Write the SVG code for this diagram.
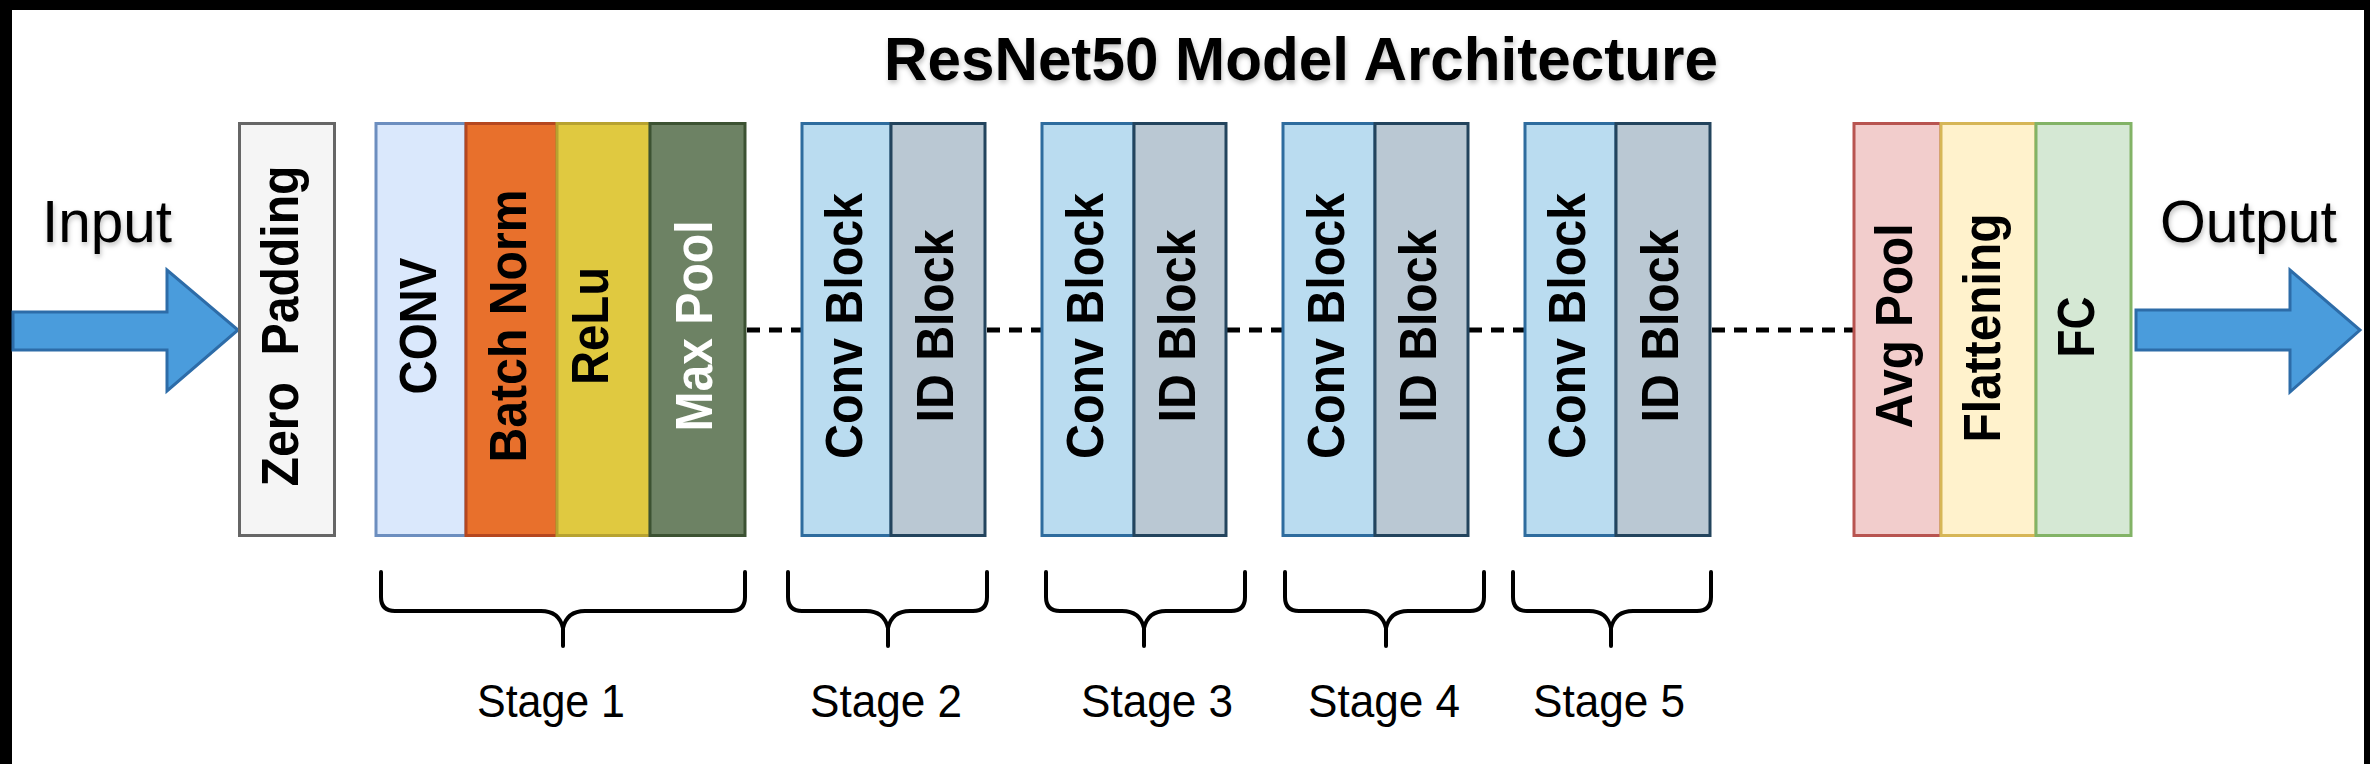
<svg xmlns="http://www.w3.org/2000/svg" width="2370" height="764" viewBox="0 0 2370 764">
  <defs>
    <filter id="soft" x="-5%" y="-20%" width="110%" height="140%">
      <feDropShadow dx="1" dy="3" stdDeviation="2.5" flood-color="#000" flood-opacity="0.25"/>
    </filter>
  </defs>
  <style>
    .box { stroke-width: 3; }
    .lbl { font-family: "Liberation Sans", Arial, sans-serif; font-weight: bold; font-size: 51px; fill: #000; }
    .io { font-family: "Liberation Sans", Arial, sans-serif; font-size: 60px; fill: #000; }
    .title { font-family: "Liberation Sans", Arial, sans-serif; font-weight: bold; font-size: 62px; fill: #000; }
    .stage { font-family: "Liberation Sans", Arial, sans-serif; font-size: 46px; fill: #000; }
    .arrow { fill: #4a9cdc; stroke: #2d6ca8; stroke-width: 3; stroke-linejoin: miter; }
    .dash { stroke: #000; stroke-width: 5; stroke-dasharray: 13 9; fill: none; }
    .brace { stroke: #000; stroke-width: 4; fill: none; stroke-linecap: round; }
  </style>

  <rect x="0" y="0" width="2370" height="764" fill="#ffffff"/>
  <!-- black frame edges -->
  <rect x="0" y="0" width="2370" height="10" fill="#000"/>
  <rect x="0" y="0" width="12" height="764" fill="#000"/>
  <rect x="2364" y="0" width="6" height="764" fill="#000"/>

  <text class="title" x="884" y="80" textLength="834" lengthAdjust="spacingAndGlyphs" filter="url(#soft)">ResNet50 Model Architecture</text>

  <g id="connectors">
    <line class="dash" x1="747" y1="330" x2="801" y2="330"/>
    <line class="dash" x1="987" y1="330" x2="1041" y2="330"/>
    <line class="dash" x1="1227" y1="330" x2="1282" y2="330"/>
    <line class="dash" x1="1469" y1="330" x2="1524" y2="330"/>
    <line class="dash" x1="1712" y1="330" x2="1853" y2="330"/>
  </g>

  <g id="input">
    <text class="io" x="42" y="242" textLength="130" lengthAdjust="spacingAndGlyphs" filter="url(#soft)">Input</text>
    <polygon class="arrow" points="13,312 167,312 167,270 238,330 167,391 167,350 13,350"/>
  </g>

  <g id="zero-padding">
    <rect class="box" x="239.5" y="123.5" width="95" height="412" fill="#f5f5f5" stroke="#666666"/>
    <text class="lbl" xml:space="preserve" transform="translate(298,326) rotate(-90)" text-anchor="middle" textLength="321" lengthAdjust="spacingAndGlyphs">Zero  Padding</text>
  </g>

  <g id="stage1">
    <g id="conv">
      <rect class="box" x="376" y="123.5" width="90" height="412" fill="#dae8fc" stroke="#6c8ebf"/>
      <text class="lbl" transform="translate(436,326) rotate(-90)" text-anchor="middle" textLength="137" lengthAdjust="spacingAndGlyphs">CONV</text>
    </g>
    <g id="batch-norm">
      <rect class="box" x="466" y="123.5" width="91" height="412" fill="#e8702c" stroke="#b5471f"/>
      <text class="lbl" transform="translate(526,326) rotate(-90)" text-anchor="middle" textLength="273" lengthAdjust="spacingAndGlyphs">Batch Norm</text>
    </g>
    <g id="relu">
      <rect class="box" x="557" y="123.5" width="93" height="412" fill="#e0c940" stroke="#b7a230"/>
      <text class="lbl" transform="translate(608,326) rotate(-90)" text-anchor="middle" textLength="118" lengthAdjust="spacingAndGlyphs">ReLu</text>
    </g>
    <g id="max-pool">
      <rect class="box" x="650" y="123.5" width="95" height="412" fill="#6d8264" stroke="#3c5232"/>
      <text class="lbl" transform="translate(712,326) rotate(-90)" text-anchor="middle" textLength="211" lengthAdjust="spacingAndGlyphs" style="fill:#ffffff">Max Pool</text>
    </g>
  </g>

  <g id="stage2">
    <g id="conv-block-2">
      <rect class="box" x="802" y="123.5" width="89" height="412" fill="#badcf0" stroke="#2e6c9e"/>
      <text class="lbl" transform="translate(862,326) rotate(-90)" text-anchor="middle" textLength="266" lengthAdjust="spacingAndGlyphs">Conv Block</text>
    </g>
    <g id="id-block-2">
      <rect class="box" x="891" y="123.5" width="94" height="412" fill="#bac8d3" stroke="#23445d"/>
      <text class="lbl" transform="translate(953,326) rotate(-90)" text-anchor="middle" textLength="193" lengthAdjust="spacingAndGlyphs">ID Block</text>
    </g>
  </g>

  <g id="stage3">
    <g id="conv-block-3">
      <rect class="box" x="1042" y="123.5" width="92" height="412" fill="#badcf0" stroke="#2e6c9e"/>
      <text class="lbl" transform="translate(1103,326) rotate(-90)" text-anchor="middle" textLength="266" lengthAdjust="spacingAndGlyphs">Conv Block</text>
    </g>
    <g id="id-block-3">
      <rect class="box" x="1134" y="123.5" width="92" height="412" fill="#bac8d3" stroke="#23445d"/>
      <text class="lbl" transform="translate(1195,326) rotate(-90)" text-anchor="middle" textLength="193" lengthAdjust="spacingAndGlyphs">ID Block</text>
    </g>
  </g>

  <g id="stage4">
    <g id="conv-block-4">
      <rect class="box" x="1283" y="123.5" width="92" height="412" fill="#badcf0" stroke="#2e6c9e"/>
      <text class="lbl" transform="translate(1344,326) rotate(-90)" text-anchor="middle" textLength="266" lengthAdjust="spacingAndGlyphs">Conv Block</text>
    </g>
    <g id="id-block-4">
      <rect class="box" x="1375" y="123.5" width="93" height="412" fill="#bac8d3" stroke="#23445d"/>
      <text class="lbl" transform="translate(1436,326) rotate(-90)" text-anchor="middle" textLength="193" lengthAdjust="spacingAndGlyphs">ID Block</text>
    </g>
  </g>

  <g id="stage5">
    <g id="conv-block-5">
      <rect class="box" x="1525" y="123.5" width="91" height="412" fill="#badcf0" stroke="#2e6c9e"/>
      <text class="lbl" transform="translate(1585,326) rotate(-90)" text-anchor="middle" textLength="266" lengthAdjust="spacingAndGlyphs">Conv Block</text>
    </g>
    <g id="id-block-5">
      <rect class="box" x="1616" y="123.5" width="94" height="412" fill="#bac8d3" stroke="#23445d"/>
      <text class="lbl" transform="translate(1678,326) rotate(-90)" text-anchor="middle" textLength="193" lengthAdjust="spacingAndGlyphs">ID Block</text>
    </g>
  </g>

  <g id="head">
    <g id="avg-pool">
      <rect class="box" x="1854" y="123.5" width="87" height="412" fill="#f2cdcc" stroke="#b85450"/>
      <text class="lbl" transform="translate(1912,326) rotate(-90)" text-anchor="middle" textLength="205" lengthAdjust="spacingAndGlyphs">Avg Pool</text>
    </g>
    <g id="flattening">
      <rect class="box" x="1941" y="123.5" width="95" height="412" fill="#fff2cc" stroke="#d6b656"/>
      <text class="lbl" transform="translate(2000,328) rotate(-90)" text-anchor="middle" textLength="229" lengthAdjust="spacingAndGlyphs">Flattening</text>
    </g>
    <g id="fc">
      <rect class="box" x="2036" y="123.5" width="95" height="412" fill="#d5e8d4" stroke="#82b366"/>
      <text class="lbl" transform="translate(2094,327) rotate(-90)" text-anchor="middle" textLength="61" lengthAdjust="spacingAndGlyphs">FC</text>
    </g>
  </g>

  <g id="output">
    <text class="io" x="2160" y="242" textLength="177" lengthAdjust="spacingAndGlyphs" filter="url(#soft)">Output</text>
    <polygon class="arrow" points="2136,310 2290,310 2290,270 2360,330 2290,392 2290,350 2136,350"/>
  </g>

  <g id="stage-braces">
    <path class="brace" d="M381,572 V597 Q381,611 395,611 H541 Q559,611 563,628 V646 M563,628 Q567,611 585,611 H731 Q745,611 745,597 V572"/>
    <path class="brace" d="M788,572 V597 Q788,611 802,611 H866 Q884,611 888,628 V646 M888,628 Q892,611 910,611 H973 Q987,611 987,597 V572"/>
    <path class="brace" d="M1046,572 V597 Q1046,611 1060,611 H1122 Q1140,611 1144,628 V646 M1144,628 Q1148,611 1166,611 H1231 Q1245,611 1245,597 V572"/>
    <path class="brace" d="M1285,572 V597 Q1285,611 1299,611 H1364 Q1382,611 1386,628 V646 M1386,628 Q1390,611 1408,611 H1470 Q1484,611 1484,597 V572"/>
    <path class="brace" d="M1513,572 V597 Q1513,611 1527,611 H1589 Q1607,611 1611,628 V646 M1611,628 Q1615,611 1633,611 H1697 Q1711,611 1711,597 V572"/>
  </g>

  <g id="stage-labels">
    <text class="stage" x="551" y="717" text-anchor="middle" textLength="148" lengthAdjust="spacingAndGlyphs">Stage 1</text>
    <text class="stage" x="886" y="717" text-anchor="middle" textLength="152" lengthAdjust="spacingAndGlyphs">Stage 2</text>
    <text class="stage" x="1157" y="717" text-anchor="middle" textLength="152" lengthAdjust="spacingAndGlyphs">Stage 3</text>
    <text class="stage" x="1384" y="717" text-anchor="middle" textLength="152" lengthAdjust="spacingAndGlyphs">Stage 4</text>
    <text class="stage" x="1609" y="717" text-anchor="middle" textLength="152" lengthAdjust="spacingAndGlyphs">Stage 5</text>
  </g>
</svg>
